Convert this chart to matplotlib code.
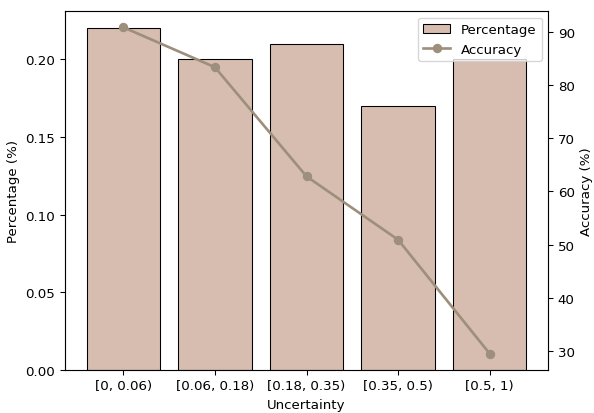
import matplotlib
matplotlib.use("Agg")
import matplotlib.pyplot as plt

bins = ["[0, 0.06)", "[0.06, 0.18)", "[0.18, 0.35)", "[0.35, 0.5)", "[0.5, 1)"]
percentage = [0.22, 0.20, 0.21, 0.17, 0.20]
accuracy = [90.8, 83.3, 62.8, 50.9, 29.5]

s = 0.96
plt.rcParams["font.size"] = 10 * s
plt.rcParams["axes.linewidth"] = 0.8 * s
plt.rcParams["xtick.major.width"] = 0.8 * s
plt.rcParams["ytick.major.width"] = 0.8 * s
plt.rcParams["xtick.major.size"] = 3.5 * s
plt.rcParams["ytick.major.size"] = 3.5 * s

fig, ax = plt.subplots(figsize=(5.94, 4.14), dpi=100)
fig.subplots_adjust(left=0.109, right=0.923, top=0.971, bottom=0.104)

bars = ax.bar(bins, percentage, color="#d7bdb0", edgecolor="black", linewidth=0.8 * s, label="Percentage")
ax.set_xlabel("Uncertainty")
ax.set_ylabel("Percentage (%)")

ax2 = ax.twinx()
line, = ax2.plot(bins, accuracy, color="#9e8f7c", marker="o", linewidth=2 * s,
                 markersize=6 * s, label="Accuracy")
ax2.set_ylabel("Accuracy (%)")

ax2.legend([bars, line], ["Percentage", "Accuracy"], loc="upper right")

fig.savefig("out.png", dpi=100)
